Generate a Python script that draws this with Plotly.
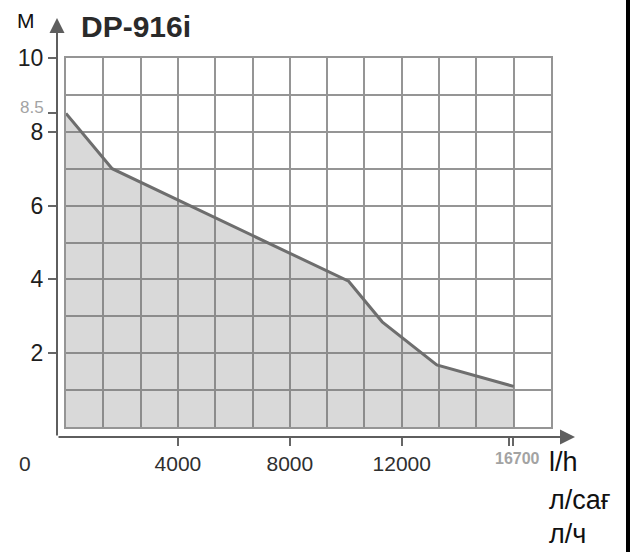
import plotly.graph_objects as go

# ---- data ----
flow = [0, 1650, 10100, 11300, 13250, 16000]      # l/h (axis position)
head = [8.5, 7.0, 3.95, 2.85, 1.68, 1.1]          # m
x_tick_vals = [4000, 8000, 12000]
x_tick_text = ["4000", "8000", "12000"]
y_tick_vals = [2, 4, 6, 8, 10]
y_tick_text = ["2", "4", "6", "8", "10"]
max_flow_label = "16700"
max_flow_ticks = [15833, 15976]
start_head_label = "8.5"
title_text = "DP-916i"
unit_y = "М"
unit_x = ["l/h", "л/сағ", "л/ч"]

# ---- geometry (pixels in the 633x552 canvas) ----
W, H = 633, 552
GX0, GX1, GY0, GY1 = 66, 551, 58, 427          # grid box
AXX, AXY = 57, 437                              # axis lines
TIPX, TIPY = 575, 18                            # arrow tips
XMAX = 13 * 4000 / 3
YMAX = 10
kx = XMAX / (GX1 - GX0)
ky = YMAX / (GY1 - GY0)


def px(x):
    return x / W


def py(y):
    return 1 - y / H


fig = go.Figure()
fig.add_trace(go.Scatter(
    x=flow, y=head, mode="lines", fill="tozeroy",
    fillcolor="rgba(120,120,120,0.28)",
    line=dict(color="#6e6e6e", width=3),
    showlegend=False, hoverinfo="skip"))
fig.add_trace(go.Scatter(x=[None], y=[None], xaxis="x2", yaxis="y2",
                         showlegend=False, hoverinfo="skip"))

grid_col = "#959595"
fig.update_layout(
    width=W, height=H,
    margin=dict(l=0, r=0, t=0, b=0),
    paper_bgcolor="white", plot_bgcolor="rgba(0,0,0,0)",
    font=dict(family="Arial, Liberation Sans, sans-serif", color="#333"),
    xaxis=dict(domain=[px(GX0), px(GX1)], range=[0, XMAX], dtick=4000 / 3, tick0=0,
               showgrid=True, gridcolor=grid_col, gridwidth=2,
               showline=True, mirror=True, linecolor=grid_col, linewidth=2,
               zeroline=False, showticklabels=False, ticks="", anchor="y",
               fixedrange=True),
    yaxis=dict(domain=[py(GY1), py(GY0)], range=[0, YMAX], dtick=1, tick0=0,
               showgrid=True, gridcolor=grid_col, gridwidth=2,
               showline=True, mirror=True, linecolor=grid_col, linewidth=2,
               zeroline=False, showticklabels=False, ticks="", anchor="x",
               fixedrange=True),
    xaxis2=dict(domain=[px(AXX), px(TIPX)],
                range=[(AXX - GX0) * kx, (TIPX - GX0) * kx],
                anchor="y2", showgrid=False, zeroline=False, showline=False,
                tickmode="array",
                tickvals=x_tick_vals + max_flow_ticks,
                ticktext=x_tick_text + ["", ""],
                ticks="outside", ticklen=8, tickwidth=1.5, tickcolor="#666",
                tickfont=dict(size=21, color="#2f2f2f"),
                ticklabelstandoff=0, fixedrange=True),
    yaxis2=dict(domain=[py(AXY), py(TIPY)],
                range=[(GY1 - AXY) * ky, (GY1 - TIPY) * ky],
                anchor="x2", showgrid=False, zeroline=False, showline=False,
                tickmode="array",
                tickvals=y_tick_vals + [8.5],
                ticktext=y_tick_text + [""],
                ticks="outside", ticklen=8, tickwidth=1.5, tickcolor="#666",
                tickfont=dict(size=23, color="#1e1e1e"),
                fixedrange=True),
)

ann = []
# axis arrows
ann.append(dict(x=px(TIPX), y=py(AXY), xref="paper", yref="paper", text="",
                showarrow=True, ax=-(TIPX - AXX), ay=0, axref="pixel", ayref="pixel",
                arrowhead=2, arrowsize=1.5, arrowwidth=2, arrowcolor="#5e5e5e",
                standoff=0, startstandoff=0))
ann.append(dict(x=px(AXX), y=py(TIPY), xref="paper", yref="paper", text="",
                showarrow=True, ax=0, ay=(AXY - TIPY), axref="pixel", ayref="pixel",
                arrowhead=2, arrowsize=1.5, arrowwidth=2, arrowcolor="#5e5e5e",
                standoff=0, startstandoff=0))
# texts
ann.append(dict(x=px(26), y=py(20), text=unit_y, xanchor="center",
                font=dict(size=21, color="#111")))
ann.append(dict(x=px(79), y=py(27), text="<b>" + title_text + "</b>", xanchor="left",
                font=dict(size=30, color="#2a2a2a",
                          family="Arial, Liberation Sans, sans-serif")))
ann.append(dict(x=px(46), y=py(108), text=start_head_label, xanchor="right",
                font=dict(size=17, color="#a3a3a3")))
ann.append(dict(x=px(25), y=py(463), text="0", xanchor="center",
                font=dict(size=21, color="#2f2f2f")))
ann.append(dict(x=px(517), y=py(458), text="<b>" + max_flow_label + "</b>",
                xanchor="center", font=dict(size=16, color="#a3a3a3")))
for t, yy in zip(unit_x, [462, 500, 534]):
    ann.append(dict(x=px(547), y=py(yy), text=t, xanchor="left",
                    font=dict(size=27, color="#111")))
for a in ann:
    a.setdefault("xref", "paper")
    a.setdefault("yref", "paper")
    a.setdefault("showarrow", False)
    a.setdefault("yanchor", "middle")
fig.update_layout(annotations=ann)

fig.add_shape(type="rect", xref="paper", yref="paper",
              x0=px(626), x1=px(630), y0=0, y1=1,
              fillcolor="black", line=dict(width=0), layer="above")

fig.write_html("out.html", config={"displayModeBar": False},
               post_script="document.body.style.margin='0';document.body.style.padding='0';")
